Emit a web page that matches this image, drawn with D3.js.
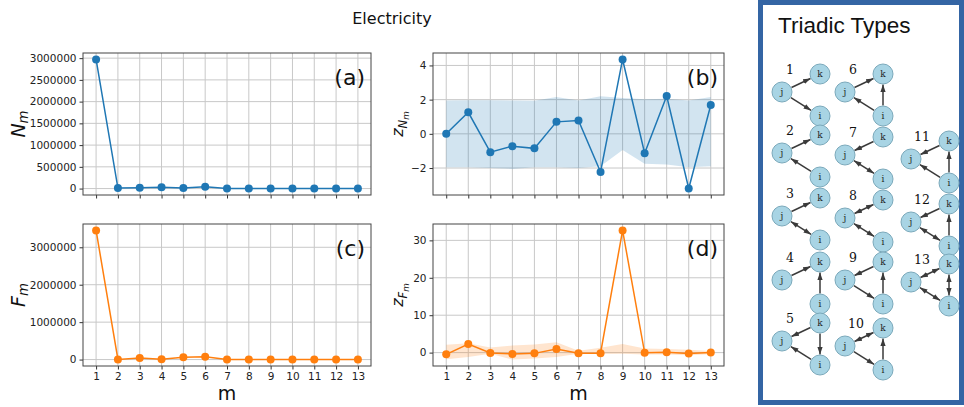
<!DOCTYPE html>
<html><head><meta charset="utf-8">
<script src="https://cdn.jsdelivr.net/npm/d3@7"></script>
<style>
body{margin:0;background:#fff}
svg{display:block;font-family:"DejaVu Sans",sans-serif}
</style></head>
<body><svg id="c" width="964" height="407"></svg>
<script>
// ---------- data ----------
const motifs = [1,2,3,4,5,6,7,8,9,10,11,12,13];
const Nm  = [2970000, 12000, 18000, 30000, 15000, 40000, 3000, 2000, 1500, 1000, 2000, 1000, 500];
const Fm  = [3450000, 5000, 40000, 10000, 60000, 75000, 2000, 1000, 1000, 500, 1000, 500, 500];
const zN   = [0.0, 1.26, -1.07, -0.72, -0.85, 0.70, 0.78, -2.23, 4.35, -1.13, 2.21, -3.2, 1.69];
const zNhi = [1.95, 1.97, 1.97, 1.95, 1.93, 2.15, 1.95, 2.2, 2.1, 2.02, 2.05, 1.95, 2.15];
const zNlo = [-1.95, -1.95, -2.0, -2.05, -1.95, -1.95, -2.0, -1.9, -0.95, -1.75, -1.8, -1.95, -1.9];
const zF   = [-0.45, 2.3, -0.1, -0.35, -0.2, 0.97, -0.15, -0.15, 32.65, -0.05, 0.1, -0.25, 0.05];
const zFhi = [2.1, 2.5, 1.4, 1.9, 2.2, 2.8, 0.5, 1.3, 2.3, 1.1, 1.0, 0.8, 0.45];
const zFlo = [-1.8, -1.2, -0.3, -1.85, -1.6, -1.15, -0.3, -0.35, -0.3, -0.5, -0.5, -0.7, -0.45];
const ticksN  = [0, 500000, 1000000, 1500000, 2000000, 2500000, 3000000];
const ticksF  = [0, 1000000, 2000000, 3000000];
const ticksZN = [-2, 0, 2, 4];
const ticksZF = [0, 10, 20, 30];
const triadIds = ["1","2","3","4","5","6","7","8","9","10","11","12","13"];
const triadEdges = [
  ["j>k","j>i"],
  ["j>k","i>j"],
  ["j>k","j<>i"],
  ["j>k","i>k"],
  ["k>j","k>i","i>j"],
  ["j>k","i>j","i>k"],
  ["k>j","i<>j"],
  ["j<>k","j<>i"],
  ["k>j","j>i","i>k"],
  ["k<>j","j>i","i>k"],
  ["k>j","i>j","i>k"],
  ["k>j","i<>j","i>k"],
  ["k<>j","i<>j","i<>k"]
];

// ---------- layout ----------
const svg = d3.select("#c");
const C0 = "#1f77b4", C1 = "#ff7f0e";

svg.append("text").attr("x", 392).attr("y", 24).attr("text-anchor","middle")
  .attr("font-size", 16).attr("fill","#111").text("Electricity");

function panel(box, vals, lo, hi, color, ticks, ylab, letter, showX){
  const g = svg.append("g");
  const x = d3.scaleLinear().domain([0.4, 13.6]).range([box.l, box.r]);
  const all = vals.concat(lo || [], hi || []);
  const mn = d3.min(all), mx = d3.max(all), pad = (mx - mn) * 0.05;
  const y = d3.scaleLinear().domain([mn - pad, mx + pad]).range([box.b, box.t]);
  // grid
  g.append("g").selectAll("line").data(motifs).join("line")
    .attr("x1", d => x(d)).attr("x2", d => x(d)).attr("y1", box.t).attr("y2", box.b)
    .attr("stroke", "#c8c8c8").attr("stroke-width", 1);
  g.append("g").selectAll("line").data(ticks).join("line")
    .attr("y1", d => y(d)).attr("y2", d => y(d)).attr("x1", box.l).attr("x2", box.r)
    .attr("stroke", "#c8c8c8").attr("stroke-width", 1);
  // band
  if (lo) {
    const area = d3.area().x((d,i) => x(motifs[i])).y0((d,i) => y(lo[i])).y1(d => y(d));
    g.append("path").datum(hi).attr("d", area).attr("fill", color).attr("fill-opacity", 0.2);
  }
  // line + markers
  const line = d3.line().x((d,i) => x(motifs[i])).y(d => y(d));
  g.append("path").datum(vals).attr("d", line).attr("fill","none").attr("stroke", color).attr("stroke-width", 1.5);
  g.append("g").selectAll("circle").data(vals).join("circle")
    .attr("cx", (d,i) => x(motifs[i])).attr("cy", d => y(d)).attr("r", 4).attr("fill", color);
  // axes
  const ax = d3.axisBottom(x).tickValues(motifs).tickSize(3.5).tickPadding(3)
    .tickFormat(showX ? d3.format("d") : () => "");
  const ay = d3.axisLeft(y).tickValues(ticks).tickSize(3.5).tickPadding(3).tickFormat(d3.format("d"));
  const gx = g.append("g").attr("transform", `translate(0,${box.b})`).call(ax);
  const gy = g.append("g").attr("transform", `translate(${box.l},0)`).call(ay);
  [gx, gy].forEach(a => {
    a.select(".domain").remove();
    a.selectAll("line").attr("stroke", "#333");
    a.selectAll("text").attr("font-size", 10.5).attr("fill", "#222").attr("font-family", "DejaVu Sans");
  });
  g.append("rect").attr("x", box.l).attr("y", box.t).attr("width", box.r - box.l).attr("height", box.b - box.t)
    .attr("fill","none").attr("stroke","#444").attr("stroke-width", 1);
  // letter
  g.append("text").attr("x", box.r - 6).attr("y", box.t + 32).attr("text-anchor","end")
    .attr("font-size", 22).attr("fill","#111").text(letter);
  // y label
  const yl = g.append("text").attr("transform", `translate(${ylab.x},${(box.t+box.b)/2}) rotate(-90)`)
    .attr("text-anchor","middle").attr("fill","#111");
  ylab.build(yl);
  if (showX) {
    g.append("text").attr("x", (box.l+box.r)/2).attr("y", box.b + 34).attr("text-anchor","middle")
      .attr("font-size", 19).attr("fill","#111").text("m");
  }
}

function subLabel(main, sub, size){
  return sel => {
    sel.attr("font-size", size);
    sel.append("tspan").attr("font-style","italic").text(main);
    sel.append("tspan").attr("font-style","italic").attr("font-size", size*0.7).attr("dy", size*0.16).text(sub);
  };
}
function zLabel(mid, size){
  return sel => {
    sel.attr("font-size", size);
    sel.append("tspan").attr("font-style","italic").text("z");
    sel.append("tspan").attr("font-style","italic").attr("font-size", size*0.72).attr("dy", size*0.22).text(mid);
    sel.append("tspan").attr("font-style","italic").attr("font-size", size*0.55).attr("dy", size*0.15).text("m");
  };
}

panel({l:83, r:371, t:53, b:195}, Nm, null, null, C0, ticksN,
  {x: 25, build: subLabel("N","m",19)}, "(a)", false);
panel({l:433, r:724, t:53, b:195}, zN, zNlo, zNhi, C0, ticksZN,
  {x: 403, build: zLabel("N",16)}, "(b)", false);
panel({l:83, r:371, t:224, b:366}, Fm, null, null, C1, ticksF,
  {x: 25, build: subLabel("F","m",19)}, "(c)", true);
panel({l:433, r:724, t:224, b:366}, zF, zFlo, zFhi, C1, ticksZF,
  {x: 403, build: zLabel("F",16)}, "(d)", true);

// ---------- triadic types panel ----------
const tp = svg.append("g");
tp.append("rect").attr("x", 760.5).attr("y", 2.5).attr("width", 201).attr("height", 400)
  .attr("fill","#fff").attr("stroke","#3465a4").attr("stroke-width", 5);
tp.append("text").attr("x", 778).attr("y", 33).attr("font-family","'Liberation Sans',Arial,sans-serif")
  .attr("font-size", 22.5).attr("fill","#111").text("Triadic Types");

const defs = svg.append("defs");
defs.append("marker").attr("id","ah").attr("viewBox","0 0 10 10").attr("refX", 10).attr("refY", 5)
  .attr("markerWidth", 5).attr("markerHeight", 5).attr("orient","auto-start-reverse")
  .append("path").attr("d","M0,1.5 L10,5 L0,8.5 Z").attr("fill","#3a3a3a");

// grid placement of each triad: column and k-node y
const triadPos = [
  {kx:820, ky:74}, {kx:820, ky:135}, {kx:820, ky:198}, {kx:820, ky:262}, {kx:820, ky:323},
  {kx:883, ky:74}, {kx:883, ky:137}, {kx:883, ky:200}, {kx:883, ky:262}, {kx:883, ky:328},
  {kx:949, ky:141}, {kx:949, ky:204}, {kx:949, ky:264}
];
const R = 10;
triadIds.forEach((id, t) => {
  const p = triadPos[t];
  const nodes = { k:[p.kx, p.ky], j:[p.kx - 38, p.ky + 18], i:[p.kx, p.ky + 42] };
  const g = tp.append("g");
  g.append("text").attr("x", p.kx - 34 + (id.length > 1 ? -1 : 0)).attr("y", p.ky)
    .attr("font-family","'DejaVu Serif','Liberation Serif',serif").attr("font-size", 12.5)
    .attr("fill","#111").text(id);
  triadEdges[t].forEach(e => {
    const both = e.includes("<>");
    const [a, b] = both ? e.split("<>") : e.split(">");
    const A = nodes[a], B = nodes[b];
    const dx = B[0]-A[0], dy = B[1]-A[1], L = Math.hypot(dx, dy);
    const ux = dx/L, uy = dy/L;
    const ln = g.append("line")
      .attr("x1", A[0] + ux*(R+0.5)).attr("y1", A[1] + uy*(R+0.5))
      .attr("x2", B[0] - ux*(R+0.5)).attr("y2", B[1] - uy*(R+0.5))
      .attr("stroke","#3a3a3a").attr("stroke-width", 1.5)
      .attr("marker-end","url(#ah)");
    if (both) ln.attr("marker-start","url(#ah)");
  });
  Object.entries(nodes).forEach(([name, c]) => {
    g.append("circle").attr("cx", c[0]).attr("cy", c[1]).attr("r", R)
      .attr("fill","#a8d4e4").attr("stroke","#7ba9bb").attr("stroke-width", 1);
    g.append("text").attr("x", c[0]).attr("y", c[1] + 3).attr("text-anchor","middle")
      .attr("font-family","'DejaVu Serif','Liberation Serif',serif").attr("font-size", 9)
      .attr("fill","#222").text(name);
  });
});
</script></body></html>
